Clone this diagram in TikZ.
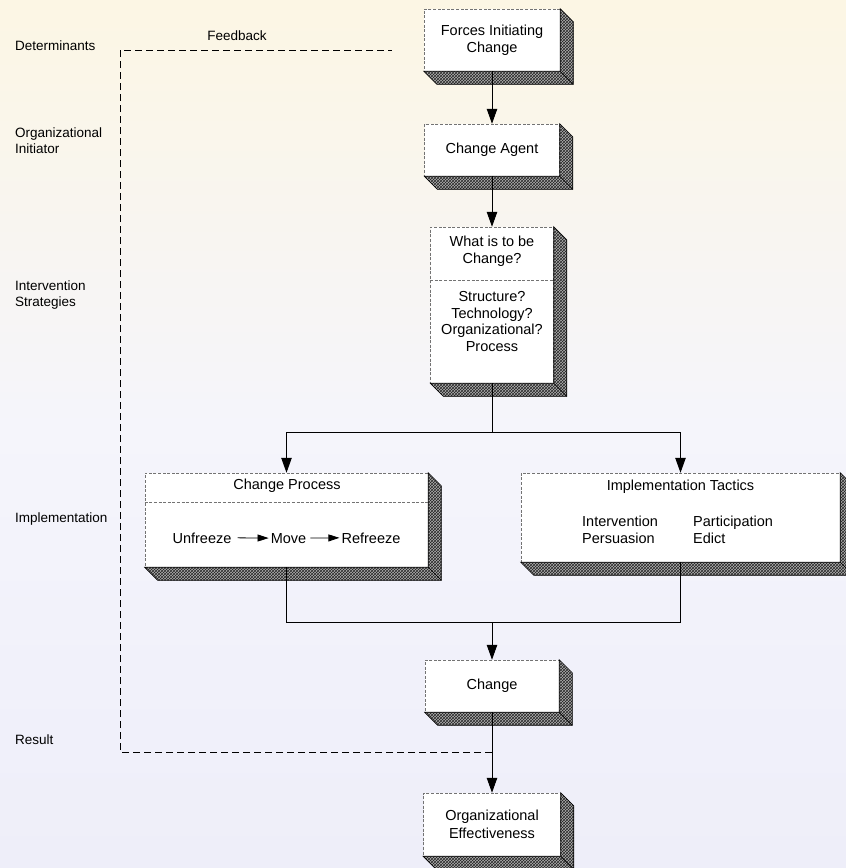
\documentclass[tikz,border=0pt]{standalone}
\usepackage{fontspec}
\setmainfont{Liberation Sans}
\usetikzlibrary{calc,arrows.meta,patterns}

\definecolor{edgegray}{gray}{0.45}
\definecolor{bgtop}{HTML}{FCF6E4}
\definecolor{bgbot}{HTML}{EEEEF9}

\tikzset{
  box/.style={draw=edgegray, dash pattern=on 3pt off 1.6pt, line width=0.5pt,
    fill=white, inner sep=0pt, align=center,
    font=\fontsize{14.5}{17.5}\selectfont},
  boxtext/.style={inner sep=0pt, align=center, font=\fontsize{14.5}{17.5}\selectfont},
  sidelabel/.style={inner sep=0pt, anchor=west, align=left,
    font=\fontsize{13.5}{16}\selectfont},
  flow/.style={line width=0.9pt, black},
  arr/.style={flow, -{Triangle[length=15pt,width=10.5pt]}},
  smallarr/.style={line width=0.8pt, -{Triangle[length=11pt,width=7pt]}},
  fbline/.style={line width=0.9pt, dash pattern=on 7pt off 4pt},
}

% extruded shadow band on the right and bottom of a box node
\newcommand\extrude[1]{%
  \fill[gray!62] (#1.south west) -- (#1.south east) -- (#1.north east)
     -- ($(#1.north east)+(13,13)$) -- ($(#1.south east)+(13,13)$)
     -- ($(#1.south west)+(13,13)$) -- cycle;
  \fill[pattern=crosshatch, pattern color=black!85] (#1.south west) -- (#1.south east) -- (#1.north east)
     -- ($(#1.north east)+(13,13)$) -- ($(#1.south east)+(13,13)$)
     -- ($(#1.south west)+(13,13)$) -- cycle;
  \draw[line width=0.7pt] (#1.south west) -- (#1.south east) -- (#1.north east)
     -- ($(#1.north east)+(13,13)$) -- ($(#1.south east)+(13,13)$)
     -- ($(#1.south west)+(13,13)$) -- cycle;
  \draw[line width=0.7pt] (#1.south east) -- ($(#1.south east)+(13,13)$);
}

\begin{document}
\begin{tikzpicture}[x=1pt,y=-1pt]
  % page background
  \shade[top color=bgtop, bottom color=bgbot, middle color=bgbot!60!white]
    (0,0) rectangle (846,868);
  \useasboundingbox (0,0) rectangle (846,868);

  % boxes of the main column
  \node[box, minimum width=136pt, minimum height=62pt] (forces) at (492,40) {Forces Initiating\\Change};
  \node[box, minimum width=135pt, minimum height=52pt] (agent) at (492,150) {Change Agent};
  \node[box, minimum width=123pt, minimum height=156pt] (what) at (492,305) {};
  \node[box, minimum width=283pt, minimum height=94pt] (process) at (286.5,520) {};
  \node[box, minimum width=319pt, minimum height=89pt] (tactics) at (680.5,517.5) {};
  \node[box, minimum width=134pt, minimum height=52pt] (change) at (492,686) {Change};
  \node[box, minimum width=137pt, minimum height=63pt] (effect) at (492,824.5) {Organizational\\Effectiveness};

  \foreach \b in {forces,agent,what,process,tactics,change,effect} {\extrude{\b}}

  % dividers inside the split boxes
  \draw[box, fill=none] (what.west |- 0,280) coordinate (whatdivL) -- (what.east |- 0,280) coordinate (whatdivR);
  \draw[box, fill=none] (process.west |- 0,502) coordinate (procdivL) -- (process.east |- 0,502) coordinate (procdivR);

  % texts inside the boxes
  \node[boxtext] (whattop) at (492,251) {What is to be\\Change?};
  \node[boxtext, font=\fontsize{14.5}{16.5}\selectfont] (whatlist) at (492,321.5) {Structure?\\Technology?\\Organizational?\\Process};

  \node[boxtext] (proctitle) at (287,486) {Change Process};
  \node[boxtext, anchor=base] (unf) at (202,543) {Unfreeze};
  \node[boxtext, anchor=base] (move) at (288.5,543) {Move};
  \node[boxtext, anchor=base] (refr) at (371,543) {Refreeze};
  \draw[smallarr] ([xshift=6pt]unf.east) -- ([xshift=-2pt]move.west);
  \draw[smallarr] ([xshift=4pt]move.east) -- ([xshift=-2pt]refr.west);

  \node[boxtext] (tactitle) at (680.5,487) {Implementation Tactics};
  \node[boxtext, anchor=base west] (tint) at (582,526) {Intervention};
  \node[boxtext, anchor=base west] (tper) at (582,543) {Persuasion};
  \node[boxtext, anchor=base west] (tpar) at (693,526) {Participation};
  \node[boxtext, anchor=base west] (tedi) at (693,543) {Edict};

  % main flow
  \draw[arr] (forces.south) -- (agent.north);
  \draw[arr] (agent.south) -- (what.north);
  \coordinate (split) at (492,432);
  \draw[flow] (what.south) -- (split);
  \draw[arr] (split) -| (process.north);
  \draw[arr] (split) -| (tactics.north);
  \coordinate (join) at (492,622);
  \draw[flow] (process.south) |- (join);
  \draw[flow] (tactics.south) |- (join);
  \draw[arr] (join) -- (change.north);
  \draw[arr] (change.south) -- (effect.north);

  % feedback loop
  \coordinate (fbstart) at (492,752);
  \coordinate (fbcornerB) at (120,752);
  \coordinate (fbcornerT) at (120,50);
  \coordinate (fbend) at (392,50);
  \draw[fbline] (fbstart) -- (fbcornerB) -- (fbcornerT) -- (fbend);
  \node[boxtext, font=\fontsize{13.5}{16}\selectfont] (fblabel) at (237,36) {Feedback};

  % stage labels on the left
  \node[sidelabel] (ldet) at (15,46) {Determinants};
  \node[sidelabel] (linit) at (15,141) {Organizational\\Initiator};
  \node[sidelabel] (lstrat) at (15,295) {Intervention\\Strategies};
  \node[sidelabel] (limpl) at (15,519) {Implementation};
  \node[sidelabel] (lres) at (15,740) {Result};
\end{tikzpicture}
\end{document}
